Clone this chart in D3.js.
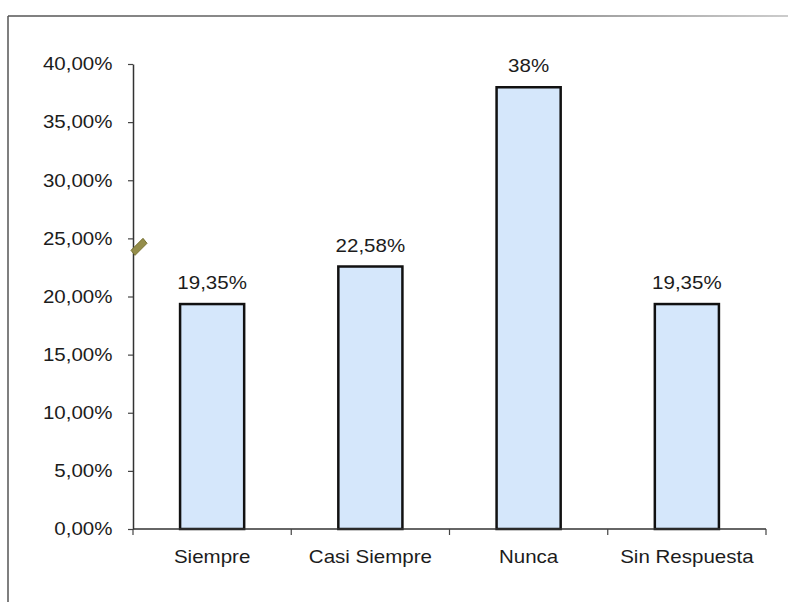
<!DOCTYPE html>
<html>
<head>
<meta charset="utf-8">
<script src="https://cdn.jsdelivr.net/npm/d3@7"></script>
<style>
  html, body { margin: 0; padding: 0; background: #fff; }
  svg { display: block; }
  text { font-family: "Liberation Sans", Arial, sans-serif; fill: #1c1c1c; }
</style>
</head>
<body>
<svg id="chart" width="788" height="602"></svg>
<script>
const categories = ["Siempre", "Casi Siempre", "Nunca", "Sin Respuesta"];
const values = [0.1935, 0.2258, 0.38, 0.1935];
const valueLabels = ["19,35%", "22,58%", "38%", "19,35%"];
const yTicks = [0, 0.05, 0.10, 0.15, 0.20, 0.25, 0.30, 0.35, 0.40];

const W = 788, H = 602;
const margin = { left: 133, right: 22, top: 64, bottom: 73 };
const svg = d3.select("#chart");
const SX = 1.14;       // horizontal stretch of the scanned text
const FS = 18;

// frame (top and left lines of the scanned box)
const grad = svg.append("defs").append("linearGradient").attr("id", "topfade")
  .attr("x1", 0).attr("x2", 1).attr("y1", 0).attr("y2", 0);
grad.append("stop").attr("offset", "0%").attr("stop-color", "#555");
grad.append("stop").attr("offset", "70%").attr("stop-color", "#777");
grad.append("stop").attr("offset", "100%").attr("stop-color", "#bbb");
svg.append("rect").attr("x", 8).attr("y", 15.25).attr("width", W - 8).attr("height", 1.5)
  .attr("fill", "url(#topfade)");
svg.append("line").attr("x1", 8).attr("x2", 8).attr("y1", 16).attr("y2", H)
  .attr("stroke", "#555").attr("stroke-width", 1.5);

const x = d3.scaleBand().domain(categories)
  .range([margin.left, W - margin.right]).padding(0);
const y = d3.scaleLinear().domain([0, 0.40])
  .range([H - margin.bottom, margin.top]);

const barW = x.step() * 0.405;

// bars
svg.append("g").selectAll("rect").data(categories).join("rect")
  .attr("x", (d) => x(d) + x.bandwidth() / 2 - barW / 2)
  .attr("y", (d, i) => y(values[i]))
  .attr("width", barW)
  .attr("height", (d, i) => y(0) - y(values[i]))
  .attr("fill", "#d5e7fb")
  .attr("stroke", "#111")
  .attr("stroke-width", 2.5);

// value labels
svg.append("g").selectAll("text").data(categories).join("text")
  .attr("transform", (d, i) => `translate(${x(d) + x.bandwidth() / 2},${y(values[i]) - 15}) scale(${SX},1)`)
  .attr("text-anchor", "middle")
  .attr("font-size", FS)
  .text((d, i) => valueLabels[i]);

// y axis
const yAxis = d3.axisLeft(y)
  .tickValues(yTicks)
  .tickFormat((d) => (d * 100).toFixed(2).replace(".", ",") + "%")
  .tickSize(5).tickSizeOuter(0).tickPadding(13);
const gy = svg.append("g").attr("transform", `translate(${margin.left},0)`).call(yAxis);
gy.select(".domain").attr("stroke", "#333").attr("stroke-width", 1.5);
gy.selectAll(".tick line").attr("stroke", "#444").attr("stroke-width", 1.2);
gy.selectAll(".tick text")
  .attr("font-size", FS)
  .attr("font-family", "Liberation Sans, Arial, sans-serif")
  .attr("fill", "#1c1c1c")
  .attr("transform", `scale(${SX},1)`);

// x axis (Excel style: ticks at category boundaries)
const y0 = y(0);
const gx = svg.append("g");
gx.append("line").attr("x1", margin.left).attr("x2", W - margin.right)
  .attr("y1", y0).attr("y2", y0).attr("stroke", "#333").attr("stroke-width", 1.5);
const bounds = categories.map((d) => x(d)).concat([x(categories[categories.length - 1]) + x.step()]);
gx.selectAll("line.tk").data(bounds).join("line").attr("class", "tk")
  .attr("x1", (d) => d).attr("x2", (d) => d)
  .attr("y1", y0).attr("y2", y0 + 6)
  .attr("stroke", "#444").attr("stroke-width", 1.2);
gx.selectAll("text").data(categories).join("text")
  .attr("transform", (d) => `translate(${x(d) + x.bandwidth() / 2},${y0 + 34}) scale(${SX},1)`)
  .attr("text-anchor", "middle")
  .attr("font-size", FS)
  .text((d) => d);

// axis break mark on the value axis
const by = y(0.244);
const bx = margin.left;
svg.append("path")
  .attr("d", `M${bx - 2},${by + 5} L${bx + 10},${by - 7} L${bx + 14},${by - 2} L${bx + 2},${by + 10} Z`)
  .attr("fill", "#948d4a").attr("stroke", "#76702f").attr("stroke-width", 1);
</script>
</body>
</html>
